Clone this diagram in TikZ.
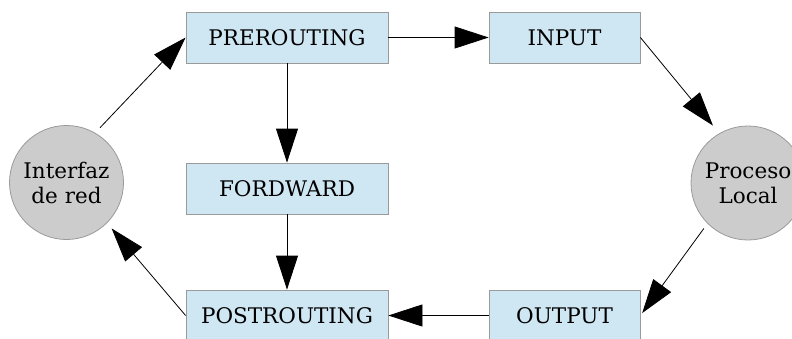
\documentclass[tikz,border=0pt]{standalone}
\usepackage{fontspec}
\setmainfont{DejaVu Serif}
\usetikzlibrary{arrows.meta}
\definecolor{chainfill}{HTML}{CFE6F3}
\definecolor{chainedge}{HTML}{9A9A9A}
\definecolor{endfill}{HTML}{CCCCCC}
\begin{document}
\begin{tikzpicture}[x=1pt,y=1pt,
  chain/.style={draw=chainedge, fill=chainfill, line width=0.8pt,
    minimum height=51pt, inner sep=0pt, font=\fontsize{21.5}{25}\selectfont},
  wide/.style={chain, minimum width=202pt},
  narrow/.style={chain, minimum width=151pt},
  endpoint/.style={circle, draw=chainedge, fill=endfill, line width=0.8pt,
    minimum size=114pt, inner sep=0pt, align=center,
    font=\fontsize{21.5}{25}\selectfont},
  flow/.style={line width=0.8pt, -{Triangle[length=34pt,width=22pt]}}]
\useasboundingbox (0,0) rectangle (792,338);
\node[wide]   (pre)  at (287,300.5) {PREROUTING};
\node[narrow] (in)   at (564.5,300.5) {INPUT};
\node[wide]   (fwd)  at (287,149.5) {FORDWARD};
\node[wide]   (post) at (287,22.5) {POSTROUTING};
\node[narrow] (out)  at (564.5,22.5) {OUTPUT};
\node[endpoint] (nic)  at (66.5,155.5) {Interfaz\\de red};
\node[endpoint] (proc) at (748,155) {Proceso\\Local};
\draw[flow, shorten <=7pt] (nic.60) -- (pre.west);
\draw[flow] (pre.east) -- (in.west);
\draw[flow, shorten >=10pt] (in.east) -- (proc.120);
\draw[flow] (pre.south) -- (fwd.north);
\draw[flow] (fwd.south) -- (post.north);
\draw[flow, shorten <=6pt, shorten >=3pt] (proc.225) -- (out.east);
\draw[flow] (out.west) -- (post.east);
\draw[flow, shorten >=7pt] (post.west) -- (nic.-45);
\end{tikzpicture}
\end{document}
